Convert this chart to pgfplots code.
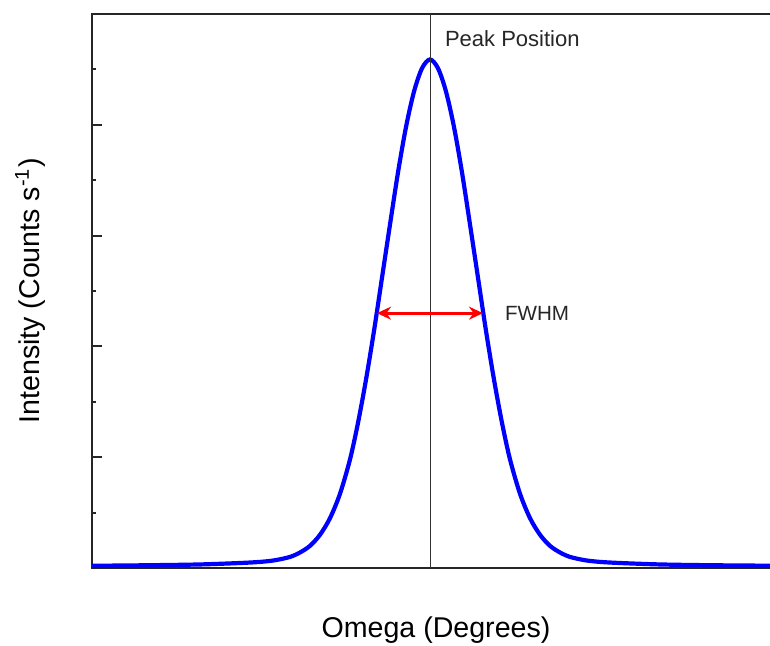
\documentclass[border=0pt]{standalone}
\usepackage{pgfplots}
\pgfplotsset{compat=1.18}
\usepackage{fontspec}
\setmainfont{Liberation Sans}
\usetikzlibrary{arrows.meta}
\begin{document}
\begin{tikzpicture}
\begin{axis}[
  scale only axis,
  width=344pt, height=277pt,
  xmin=-338, xmax=350, ymin=0, ymax=5,
  xtick=\empty,
  ytick={1,2,3,4},
  yticklabels={},
  minor ytick={0.5,1.5,2.5,3.5,4.5},
  tick align=inside,
  major tick length=5pt,
  minor tick length=2pt,
  axis line style={black!85, line width=1pt},
  every tick/.style={black!85, line width=1pt},
  xlabel={Omega (Degrees)},
  ylabel={Intensity (Counts s\textsuperscript{-1})},
  every axis x label/.style={at={(axis description cs:0.5,-0.112)}, anchor=center, font=\fontsize{14.3}{16}\selectfont},
  every axis y label/.style={at={(axis description cs:-0.09,0.5)}, anchor=center, rotate=90, font=\fontsize{14.3}{16}\selectfont},
  clip=false,
]
\addplot[blue, line width=2.1pt, smooth] coordinates {
(-338,0.02) (-280,0.025) (-230,0.032) (-190,0.045) (-170,0.055) (-155,0.07) (-140,0.10) (-130,0.14) (-120,0.20) (-110,0.30) (-100,0.45) (-90,0.67) (-80,0.98) (-72,1.31) (-64,1.70) (-56,2.14) (-48,2.62) (-40,3.10) (-32,3.57) (-24,3.98) (-16,4.30) (-8,4.51) (0,4.59)
(8,4.51) (16,4.30) (24,3.98) (32,3.57) (40,3.10) (48,2.62) (56,2.14) (64,1.70) (72,1.31) (80,0.98) (90,0.67) (100,0.45) (110,0.30) (120,0.20) (130,0.14) (140,0.10) (155,0.07) (170,0.055) (190,0.045) (230,0.032) (280,0.025) (350,0.02)
};
\addplot[black!80, line width=0.5pt] coordinates {(0,0) (0,5)};
\addplot[red, line width=1.5pt, {Stealth[length=7pt,width=6.5pt]}-{Stealth[length=7pt,width=6.5pt]}] coordinates {(-53,2.30) (53,2.30)};
\node[anchor=west, text=black!85, font=\fontsize{11}{13}\selectfont] at (axis cs:8,4.78) {Peak Position};
\node[anchor=west, text=black!85, font=\fontsize{10.3}{12}\selectfont] at (axis cs:68,2.30) {FWHM};
\end{axis}
\pgfresetboundingbox
\useasboundingbox (current axis.south west) ++(-46pt,-39pt) rectangle ++(385pt,323pt);
\end{tikzpicture}
\end{document}
